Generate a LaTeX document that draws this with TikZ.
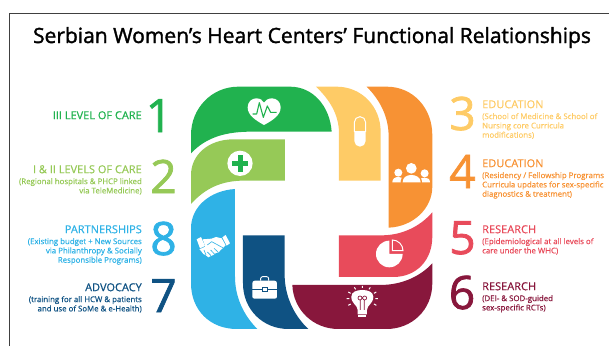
\documentclass[tikz,border=0pt]{standalone}
\usepackage{fontspec}
\setmainfont{Open Sans}
\definecolor{cOne}{HTML}{21B24F}
\definecolor{cTwo}{HTML}{96C957}
\definecolor{cThree}{HTML}{FECB66}
\definecolor{cFour}{HTML}{F79234}
\definecolor{cFive}{HTML}{E84B5B}
\definecolor{cSix}{HTML}{88173C}
\definecolor{cSeven}{HTML}{0F5283}
\definecolor{cEight}{HTML}{2FB2E6}
\newcommand{\hd}[1]{{\fontsize{11}{11}\selectfont\rule{0pt}{9pt}#1}}
\tikzset{
  numeral/.style={anchor=base,inner sep=0pt,font=\fontsize{46}{46}\selectfont\addfontfeature{FakeBold=1.6}},
  leftlabel/.style={anchor=north east,inner sep=0pt,align=right,font=\fontsize{7.85}{9.3}\selectfont\addfontfeature{FakeBold=0.6}},
  rightlabel/.style={anchor=north west,inner sep=0pt,align=left,font=\fontsize{7.85}{9.3}\selectfont\addfontfeature{FakeBold=0.6}},
  zoomed/.style={xshift=180pt,yshift=-80pt,x=0.3333pt,y=-0.3333pt},
  ico/.style={fill=white,draw=none}
}
\begin{document}
\begin{tikzpicture}[x=1pt,y=-1pt]
\useasboundingbox (0,0) rectangle (609,346);
\draw[line width=1pt,draw=black!75] (9.5,346) |- (609,13);
\node[anchor=base,inner sep=0pt,font=\fontsize{21}{22}\selectfont\addfontfeature{FakeBold=1.6}] (title) at (312,43) {Serbian Women’s Heart Centers’ Functional Relationships};

\begin{scope}[zoomed]
% green
\fill[cOne] (33,220) -- (33,165) .. controls (33,85) and (95,20) .. (175,20) -- (330,20) .. controls (400,20) and (450,80) .. (455,155) -- (215,155) .. controls (140,155) and (80,170) .. (33,220) -- cycle;
% light green
\fill[cTwo] (33,372) -- (33,285) .. controls (33,225) and (85,178) .. (160,178) -- (315,178) -- (315,302) -- (190,302) .. controls (125,302) and (75,325) .. (33,372) -- cycle;
% blue
\fill[cEight] (165,327) -- (165,590) .. controls (165,650) and (190,705) .. (232,747) -- (170,747) .. controls (90,747) and (33,690) .. (33,610) -- (33,445) .. controls (33,380) and (90,332) .. (165,327) -- cycle;
% navy
\fill[cSeven] (189,466) -- (314,466) -- (314,585) .. controls (314,645) and (340,705) .. (385,747) -- (325,747) .. controls (250,747) and (189,690) .. (189,610) -- cycle;
% maroon
\fill[cSix] (337,615) -- (600,615) .. controls (665,615) and (720,590) .. (757,550) -- (757,610) .. controls (757,690) and (695,747) .. (620,747) -- (475,747) .. controls (400,747) and (340,690) .. (337,615) -- cycle;
% red
\fill[cFive] (477,466) -- (605,466) .. controls (665,466) and (720,440) .. (757,397) -- (757,470) .. controls (757,540) and (710,591) .. (640,591) -- (477,591) -- cycle;
% orange
\fill[cFour] (560,20) -- (620,20) .. controls (700,20) and (757,85) .. (757,165) -- (757,320) .. controls (757,385) and (700,440) .. (626,443) -- (626,170) .. controls (626,110) and (600,60) .. (560,20) -- cycle;
% yellow
\fill[cThree] (408,20) -- (470,20) .. controls (545,20) and (602,80) .. (602,155) -- (602,302) -- (477,302) -- (477,160) .. controls (477,105) and (450,60) .. (408,20) -- cycle;

% heart icon
\fill[ico] (252,135) .. controls (225,120) and (203,105) .. (203,82) .. controls (203,65) and (216,55) .. (229,55) .. controls (240,55) and (248,60) .. (252,68) .. controls (257,60) and (265,55) .. (276,55) .. controls (290,55) and (302,66) .. (302,82) .. controls (302,105) and (280,120) .. (252,135) -- cycle;
\draw[cOne,line width=1.1pt,line join=round] (218,102) -- (230,102) -- (238,68) -- (250,112) -- (262,78) -- (272,97) -- (290,97);
% plus icon
\fill[ico] (180,250) circle (38);
\fill[cOne] (173,225) rectangle (188,275);
\fill[cOne] (155,243) rectangle (205,258);
% pill icon
\draw[white,line width=1pt,fill=cThree] (523,155) -- (523,127) arc[start angle=180,end angle=360,radius=17] -- (557,155) -- cycle;
\fill[ico] (523,155) -- (557,155) -- (557,183) arc[start angle=0,end angle=180,radius=17] -- cycle;
% people icon
\fill[ico] (655,278) circle (12);
\fill[ico] (734,280) circle (12);
\fill[ico] (637,307) .. controls (637,296) and (645,291) .. (655,291) .. controls (662,291) and (668,294) .. (670,298) -- (662,307) -- cycle;
\fill[ico] (750,307) .. controls (750,296) and (742,293) .. (734,293) .. controls (727,293) and (721,295) .. (719,298) -- (727,307) -- cycle;
\fill[cFour] (694,304) ellipse (32 and 22);
\fill[ico] (694,265) circle (16);
\fill[ico] (668,307) .. controls (668,292) and (680,285) .. (694,285) .. controls (708,285) and (722,292) .. (722,307) -- cycle;
% pie icon
\fill[ico] (628,482) -- (628,522) -- (668,522) arc[start angle=0,end angle=270,radius=40] -- cycle;
\draw[white,line width=1pt,fill=cFive] (637,480) arc[start angle=270,end angle=360,radius=32] -- (637,512) -- cycle;
% bulb icon
\fill[ico] (533,703) -- (533,690) .. controls (533,675) and (514,672) .. (514,650) .. controls (514,636) and (530,630) .. (547,630) .. controls (564,630) and (580,636) .. (580,650) .. controls (580,672) and (561,675) .. (561,690) -- (561,703) -- cycle;
\fill[ico] (535,706) rectangle (559,712);
\draw[cSix,line width=.7pt] (541,690) -- (541,660) (553,690) -- (553,660) (540,654) circle (6) (554,654) circle (6);
\draw[white,line width=1pt] (547,624) -- (547,618) (527,628) -- (523,622) (567,628) -- (571,622) (512,640) -- (505,636) (582,640) -- (589,636) (508,656) -- (500,656) (586,656) -- (594,656) (512,672) -- (505,676) (582,672) -- (589,676);
% briefcase icon
\fill[ico] (217,610) .. controls (217,605) and (220,602) .. (225,602) -- (283,602) .. controls (288,602) and (291,605) .. (291,610) -- (291,650) .. controls (291,654) and (288,656) .. (284,656) -- (224,656) .. controls (220,656) and (217,654) .. (217,650) -- cycle;
\draw[white,line width=.9pt,rounded corners=2pt] (242,602) -- (242,590) -- (266,590) -- (266,602);
\draw[cSeven,line width=.7pt] (217,627) -- (247,627) (261,627) -- (291,627);
\draw[cSeven,line width=.6pt,fill=white] (247,622) rectangle (261,633);
% handshake icon
\fill[ico] (50,478) -- (63,471) -- (75,498) -- (60,505) -- cycle;
\fill[ico] (137,465) -- (150,490) -- (140,497) -- (127,472) -- cycle;
\fill[ico] (68,478) -- (95,476) -- (108,471) -- (125,475) -- (137,496) -- (130,503) -- (122,510) -- (116,517) -- (108,519) -- (100,525) -- (93,528) -- (85,532) -- (78,526) -- (70,522) -- (64,514) -- (58,508) -- (76,500) -- cycle;
\draw[cEight,line width=.6pt] (82,495) -- (95,485) -- (108,492) -- (128,503)
  (102,505) -- (114,516) (92,510) -- (104,523) (82,516) -- (93,527) (72,510) -- (78,525);
\end{scope}

\node[numeral,text=cOne] (n1) at (159,132) {1};
\node[numeral,text=cTwo] (n2) at (163.5,193) {2};
\node[numeral,text=cEight] (n8) at (163.5,255) {8};
\node[numeral,text=cSeven] (n7) at (163.5,312) {7};
\node[numeral,text=cThree] (n3) at (462.5,130) {3};
\node[numeral,text=cFour] (n4) at (462.5,188) {4};
\node[numeral,text=cFive] (n5) at (462.5,254) {5};
\node[numeral,text=cSix] (n6) at (462,309) {6};

\node[leftlabel,text=cOne] (l1) at (142,110) {\hd{III LEVEL OF CARE}};
\node[leftlabel,text=cTwo] (l2) at (142,164) {\hd{I \& II LEVELS OF CARE}\\[1.6pt](Regional hospitals \& PHCP linked\\via TeleMedicine)};
\node[leftlabel,text=cEight] (l8) at (142,224) {\hd{PARTNERSHIPS}\\[1.6pt](Existing budget + New Sources\\via Philanthropy \& Socially\\Responsible Programs)};
\node[leftlabel,text=cSeven] (l7) at (142,282) {\hd{ADVOCACY}\\[1.6pt](training for all HCW \& patients\\and use of SoMe \& e-Health)};
\node[rightlabel,text=cThree] (r3) at (482,99) {\hd{EDUCATION}\\[1.6pt](School of Medicine \& School of\\Nursing core Curricula\\modifications)};
\node[rightlabel,text=cFour] (r4) at (482,158) {\hd{EDUCATION}\\[1.6pt](Residency / Fellowship Programs\\Curricula updates for sex-specific\\diagnostics \& treatment)};
\node[rightlabel,text=cFive] (r5) at (482,224) {\hd{RESEARCH}\\[1.6pt](Epidemiological at all levels of\\care under the WHC)};
\node[rightlabel,text=cSix] (r6) at (482,281) {\hd{RESEARCH}\\[1.6pt](DEI- \& SOD-guided\\sex-specific RCTs)};
\end{tikzpicture}
\end{document}
